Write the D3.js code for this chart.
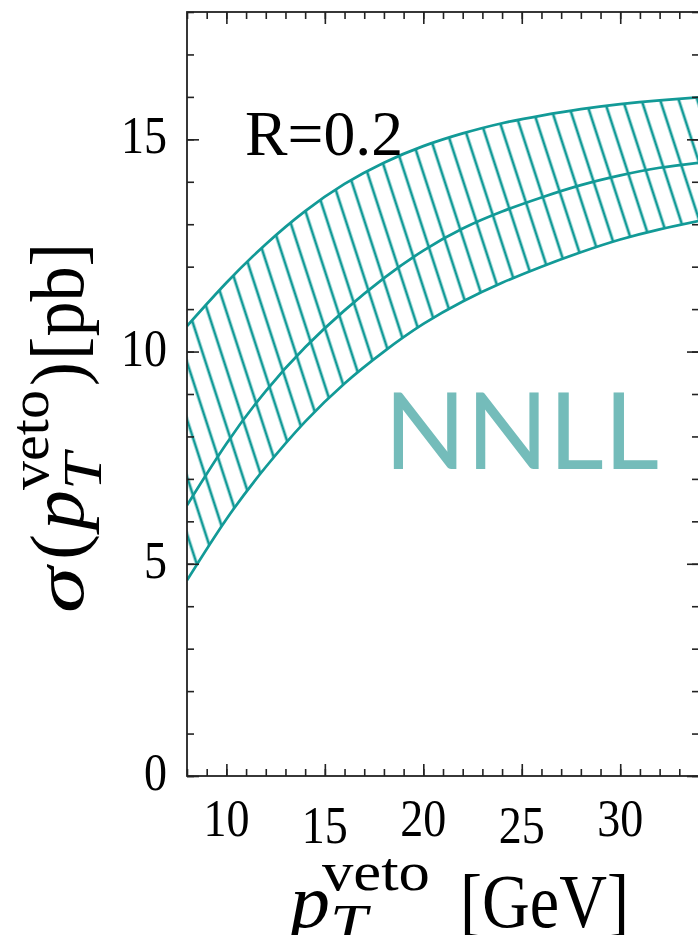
<!DOCTYPE html>
<html>
<head>
<meta charset="utf-8">
<script src="https://cdn.jsdelivr.net/npm/d3@7"></script>
<style>
  html, body { margin: 0; padding: 0; background: #fff; }
  svg { display: block; }
</style>
</head>
<body>
<script>
// ---- data ----
const pTveto = [8, 10, 12, 14, 16, 18, 20, 22, 24, 26, 28, 30, 32, 34];
const sigmaUpper = [10.6, 11.62, 12.53, 13.31, 13.95, 14.45, 14.84, 15.14, 15.38, 15.56, 15.71, 15.83, 15.92, 15.99];
const sigmaCentral = [6.38, 7.83, 9.07, 10.1, 10.97, 11.73, 12.38, 12.9, 13.3, 13.63, 13.92, 14.15, 14.33, 14.45];
const sigmaLower = [4.61, 6.05, 7.28, 8.35, 9.25, 10.0, 10.65, 11.18, 11.62, 12.0, 12.34, 12.64, 12.88, 13.08];
const xTickLabels = [10, 15, 20, 25, 30];
const yTickLabels = [0, 5, 10, 15];
const xDomain = [8, 34];
const yDomain = [0, 18];
const bandLabel = "NNLL";
const radiusLabel = "R=0.2";

// ---- layout ----
const W = 698, H = 935;
const L = 187, R = 699, T = 12, B = 776;
const teal = "#129a97";
const axisCol = "#222";
const serif = "'Liberation Serif', 'Times New Roman', serif";

const svg = d3.select("body").append("svg").attr("width", W).attr("height", H);

const x = d3.scaleLinear().domain(xDomain).range([L, R]);
const y = d3.scaleLinear().domain(yDomain).range([B, T]);

const defs = svg.append("defs");
defs.append("clipPath").attr("id", "plotclip")
  .append("rect").attr("x", L).attr("y", T).attr("width", R - L).attr("height", B - T);

const pat = defs.append("pattern").attr("id", "hatch")
  .attr("patternUnits", "userSpaceOnUse")
  .attr("width", 17.7).attr("height", 40)
  .attr("patternTransform", "rotate(-18) translate(4,0)");
pat.append("line").attr("x1", 8.85).attr("y1", -5).attr("x2", 8.85).attr("y2", 45)
  .attr("stroke", teal).attr("stroke-width", 2.7);

const rows = pTveto.map((p, i) => ({ p, lo: sigmaLower[i], mid: sigmaCentral[i], hi: sigmaUpper[i] }));
const curve = d3.curveNatural;

const plot = svg.append("g").attr("clip-path", "url(#plotclip)");
plot.append("path").datum(rows)
  .attr("d", d3.area().curve(curve).x(d => x(d.p)).y0(d => y(d.lo)).y1(d => y(d.hi)))
  .attr("fill", "url(#hatch)").attr("stroke", "none");
["hi", "mid", "lo"].forEach(k => {
  plot.append("path").datum(rows)
    .attr("d", d3.line().curve(curve).x(d => x(d.p)).y(d => y(d[k])))
    .attr("fill", "none").attr("stroke", teal).attr("stroke-width", 2.7);
});

// ---- axes (inward ticks on all four sides) ----
const minorX = d3.range(xDomain[0], xDomain[1] + 1, 1);
const minorY = d3.range(yDomain[0], yDomain[1] + 1, 1);
function styleAxis(g) {
  g.select(".domain").remove();
  g.selectAll(".tick line").attr("stroke", axisCol).attr("stroke-width", 1.6);
  g.selectAll(".tick text").remove();
}
const axes = [
  [d3.axisBottom(x), `translate(0,${B})`, minorX, xTickLabels],
  [d3.axisTop(x), `translate(0,${T})`, minorX, xTickLabels],
  [d3.axisLeft(y), `translate(${L},0)`, minorY, yTickLabels],
  [d3.axisRight(y), `translate(${R},0)`, minorY, yTickLabels]
];
axes.forEach(([ax, tr, minor, major]) => {
  svg.append("g").attr("transform", tr)
    .call(ax.tickValues(minor).tickSize(-7).tickFormat(""))
    .call(styleAxis);
  svg.append("g").attr("transform", tr)
    .call(ax.tickValues(major).tickSize(-12).tickFormat(""))
    .call(styleAxis);
});
svg.append("rect").attr("x", L).attr("y", T).attr("width", R - L).attr("height", B - T)
  .attr("fill", "none").attr("stroke", axisCol).attr("stroke-width", 1.8);

// ---- tick labels ----
svg.append("g").selectAll("text").data(xTickLabels).join("text")
  .attr("transform", (d, i) => `translate(${x(d)},${i % 2 ? 843 : 836}) scale(1,1.13)`)
  .attr("text-anchor", "middle").attr("font-family", serif).attr("font-size", 46)
  .attr("fill", "#000").text(d => d);
svg.append("g").selectAll("text").data(yTickLabels).join("text")
  .attr("transform", d => `translate(167,${y(d) + 14}) scale(1,1.13)`)
  .attr("text-anchor", "end").attr("font-family", serif).attr("font-size", 46)
  .attr("fill", "#000").text(d => d);

// ---- annotations ----
svg.append("text").attr("x", 245).attr("y", 155)
  .attr("font-family", serif).attr("font-size", 63)
  .attr("textLength", 158).attr("lengthAdjust", "spacingAndGlyphs")
  .attr("fill", "#000").text(radiusLabel);

svg.append("text").attr("x", 384).attr("y", 469)
  .attr("font-family", "Lato, 'Open Sans', sans-serif").attr("font-size", 106)
  .attr("textLength", 275).attr("lengthAdjust", "spacingAndGlyphs")
  .attr("fill", "#74bcba").text(bandLabel);

// ---- axis titles (pieces placed to mimic LaTeX) ----
function piece(g, txt, px, py, size, len, italic, rot) {
  g.append("text")
    .attr("transform", `translate(${px},${py})` + (rot ? " rotate(-90)" : ""))
    .attr("font-family", serif).attr("font-size", size)
    .attr("font-style", italic ? "italic" : "normal")
    .attr("textLength", len).attr("lengthAdjust", "spacingAndGlyphs")
    .attr("fill", "#000").text(txt);
}
const xt = svg.append("g");
piece(xt, "p", 290, 927, 76, 40, true, false);
piece(xt, "veto", 322, 890, 54, 108, false, false);
piece(xt, "T", 330, 942, 54, 37, true, false);
piece(xt, "[GeV]", 460, 927, 76, 169, false, false);

const yt = svg.append("g");
piece(yt, "σ", 83, 613, 70, 46, true, true);
piece(yt, "(", 83, 560, 76, 26, false, true);
piece(yt, "p", 83, 530, 76, 40, true, true);
piece(yt, "T", 101, 490, 54, 37, true, true);
piece(yt, "veto", 48, 490, 54, 100, false, true);
piece(yt, ")", 83, 386, 76, 24, false, true);
piece(yt, "[pb]", 83, 360, 76, 117, false, true);
</script>
</body>
</html>
